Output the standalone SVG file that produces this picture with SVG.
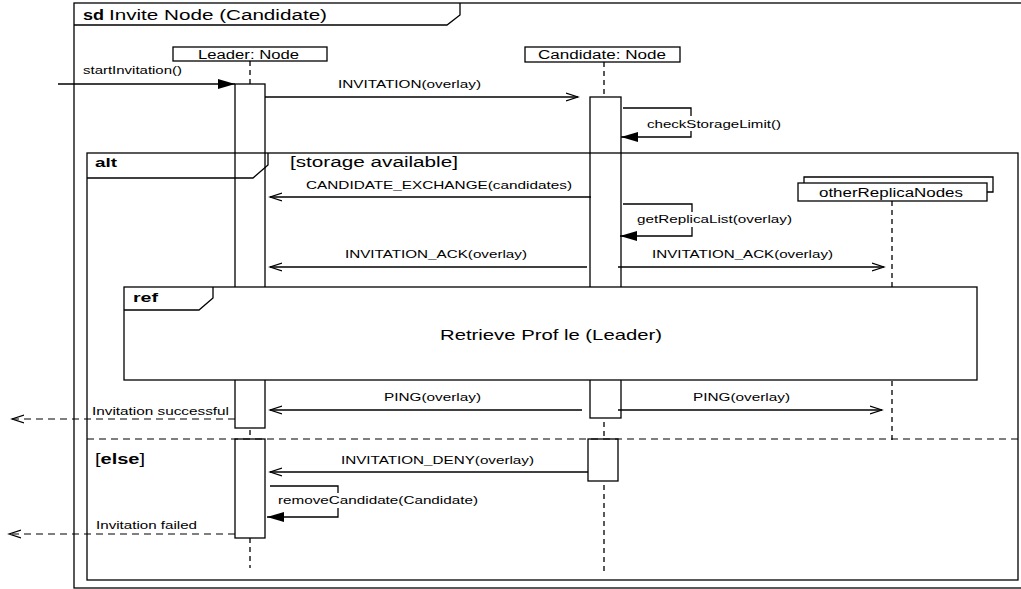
<svg xmlns="http://www.w3.org/2000/svg" width="1021" height="589" viewBox="0 0 1021 589">
<defs>
<style>
.ln{stroke:#000;stroke-width:1.3;fill:none}
.box{stroke:#000;stroke-width:1.3;fill:#fff}
.bg{fill:#fff;stroke:none}
.life{stroke:#000;stroke-width:1.3;stroke-dasharray:5 4;fill:none}
.ret{stroke:#000;stroke-width:1.2;stroke-dasharray:7 5;fill:none}
.sep{stroke:#000;stroke-width:1.2;stroke-dasharray:7 5;fill:none}
text{font-family:"Liberation Sans",Arial,sans-serif;fill:#000}
.m{font-size:11.5px}
.h{font-size:12.5px}
.b{font-weight:bold}
</style>
<marker id="open" markerUnits="userSpaceOnUse" markerWidth="14" markerHeight="11" refX="12" refY="5" orient="auto">
<path d="M0,1 L12,5 L0,9" fill="none" stroke="#000" stroke-width="1.2"/>
</marker>
<marker id="fill" markerUnits="userSpaceOnUse" markerWidth="19" markerHeight="11" refX="17" refY="5" orient="auto">
<path d="M0,0 L17,5 L0,10 Z" fill="#000"/>
</marker>
</defs>
<rect width="1021" height="589" fill="#fff"/>

<g id="frame-sd">
<rect x="74" y="3" width="980" height="585" class="ln"/>
<path d="M74,25 H447 L460,15 V3" class="ln"/>
<text x="83" y="20" font-size="14" class="b" textLength="21" lengthAdjust="spacingAndGlyphs">sd</text>
<text x="109" y="20" font-size="14" textLength="218" lengthAdjust="spacingAndGlyphs">Invite Node (Candidate)</text>
</g>

<g id="lifelines">
<line x1="250" y1="61" x2="250" y2="568" class="life"/>
<line x1="604" y1="62" x2="604" y2="572" class="life"/>
<line x1="892" y1="201" x2="892" y2="440" class="life"/>
</g>

<g id="leader">
<rect x="173" y="47" width="154" height="14" class="box"/>
<text x="198" y="58.5" class="h" textLength="101" lengthAdjust="spacingAndGlyphs">Leader: Node</text>
</g>

<g id="candidate">
<rect x="525" y="47" width="155" height="15" class="box"/>
<text x="538" y="59" class="h" textLength="128" lengthAdjust="spacingAndGlyphs">Candidate: Node</text>
</g>

<g id="otherReplicaNodes">
<path d="M804,183 V177 H993 V192 H987" class="ln"/>
<rect x="798" y="183" width="189" height="18" class="box"/>
<text x="819" y="196.5" class="h" textLength="144" lengthAdjust="spacingAndGlyphs">otherReplicaNodes</text>
</g>

<g id="activations">
<rect x="235" y="84" width="30" height="344" class="box"/>
<rect x="590" y="97" width="31" height="321" class="box"/>
<rect x="235" y="439" width="30" height="99" class="box"/>
<rect x="588" y="439" width="30" height="42" class="box"/>
</g>

<g id="alt">
<rect x="87" y="153" width="931" height="427" class="ln"/>
<path d="M87,178 H253 L268,165 V153" class="ln"/>
<text x="95" y="167" font-size="13" class="b" textLength="22" lengthAdjust="spacingAndGlyphs">alt</text>
<text x="290" y="167" font-size="14" textLength="168" lengthAdjust="spacingAndGlyphs">[storage available]</text>
<line x1="87" y1="439" x2="1018" y2="439" class="sep"/>
<text x="95" y="464" font-size="14" textLength="50" lengthAdjust="spacingAndGlyphs">[<tspan class="b">else</tspan>]</text>
</g>

<g id="ref">
<rect x="124" y="287" width="853" height="93" class="box"/>
<path d="M124,310 H199 L213,298 V287" class="ln"/>
<text x="133" y="302" font-size="13" class="b" textLength="25" lengthAdjust="spacingAndGlyphs">ref</text>
<text x="440" y="340" font-size="15" textLength="222" lengthAdjust="spacingAndGlyphs">Retrieve Prof le (Leader)</text>
</g>

<g id="connectors">
<line x1="58" y1="84" x2="235" y2="84" class="ln" marker-end="url(#fill)"/>
<text x="83" y="74" class="m" textLength="99" lengthAdjust="spacingAndGlyphs">startInvitation()</text>

<line x1="265" y1="97" x2="578" y2="97" class="ln" marker-end="url(#open)"/>
<text x="338" y="88" class="m" textLength="143" lengthAdjust="spacingAndGlyphs">INVITATION(overlay)</text>

<path d="M623,108 H691 V137 H621" class="ln" marker-end="url(#fill)"/>
<rect x="645" y="116" width="138" height="15" class="bg"/>
<text x="647" y="128" class="m" textLength="134" lengthAdjust="spacingAndGlyphs">checkStorageLimit()</text>

<line x1="591" y1="197" x2="270" y2="197" class="ln" marker-end="url(#open)"/>
<text x="306" y="189" class="m" textLength="266" lengthAdjust="spacingAndGlyphs">CANDIDATE_EXCHANGE(candidates)</text>

<path d="M623,204 H692 V236 H620" class="ln" marker-end="url(#fill)"/>
<rect x="635" y="212" width="159" height="15" class="bg"/>
<text x="637" y="223" class="m" textLength="155" lengthAdjust="spacingAndGlyphs">getReplicaList(overlay)</text>

<line x1="587" y1="267" x2="270" y2="267" class="ln" marker-end="url(#open)"/>
<text x="345" y="258" class="m" textLength="182" lengthAdjust="spacingAndGlyphs">INVITATION_ACK(overlay)</text>

<line x1="618" y1="267" x2="884" y2="267" class="ln" marker-end="url(#open)"/>
<text x="652" y="258" class="m" textLength="181" lengthAdjust="spacingAndGlyphs">INVITATION_ACK(overlay)</text>

<line x1="582" y1="410" x2="270" y2="410" class="ln" marker-end="url(#open)"/>
<text x="384" y="401" class="m" textLength="97" lengthAdjust="spacingAndGlyphs">PING(overlay)</text>

<line x1="618" y1="410" x2="882" y2="410" class="ln" marker-end="url(#open)"/>
<text x="693" y="401" class="m" textLength="97" lengthAdjust="spacingAndGlyphs">PING(overlay)</text>

<line x1="235" y1="419" x2="12" y2="419" class="ret" marker-end="url(#open)"/>
<text x="92" y="415" class="m" textLength="137" lengthAdjust="spacingAndGlyphs">Invitation successful</text>

<line x1="588" y1="472" x2="270" y2="472" class="ln" marker-end="url(#open)"/>
<text x="341" y="464" class="m" textLength="193" lengthAdjust="spacingAndGlyphs">INVITATION_DENY(overlay)</text>

<path d="M270,486 H338 V517 H267" class="ln" marker-end="url(#fill)"/>
<rect x="276" y="493" width="204" height="15" class="bg"/>
<text x="278" y="504" class="m" textLength="200" lengthAdjust="spacingAndGlyphs">removeCandidate(Candidate)</text>

<line x1="235" y1="534" x2="9" y2="534" class="ret" marker-end="url(#open)"/>
<text x="96" y="529" class="m" textLength="101" lengthAdjust="spacingAndGlyphs">Invitation failed</text>
</g>
</svg>
